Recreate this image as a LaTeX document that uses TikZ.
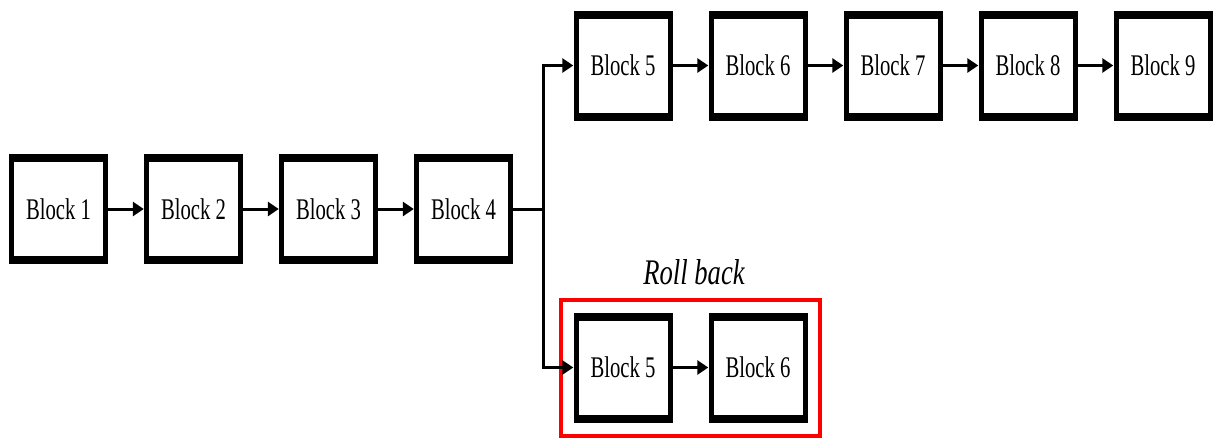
\documentclass[tikz,border=0pt]{standalone}
\usepackage{fontspec}
\setmainfont{Liberation Serif}
\newfontfamily\blkfont[FakeStretch=0.69]{Liberation Serif}
\newfontfamily\rbfont[FakeStretch=0.74]{Liberation Serif}
\usetikzlibrary{arrows.meta}
\tikzset{
  blk/.style={fill=black, minimum width=99pt, minimum height=110pt, inner sep=0pt,
    font=\blkfont\fontsize{30}{36}\selectfont,
    path picture={\fill[white] ([xshift=5pt,yshift=-8pt]path picture bounding box.north west) rectangle ([xshift=-5pt,yshift=8pt]path picture bounding box.south east);}},
  conn/.style={line width=3pt},
  arr/.style={line width=3pt, -{Triangle[length=11pt,width=14pt]}},
}
\begin{document}
\begin{tikzpicture}[x=1pt,y=-1pt]
\useasboundingbox (0,0) rectangle (1213,439);
\node[blk] (b1) at (58.5,209) {Block 1};
\node[blk] (b2) at (193.5,209) {Block 2};
\node[blk] (b3) at (328.5,209) {Block 3};
\node[blk] (b4) at (463.5,209) {Block 4};
\node[blk] (t5) at (623,65.5) {Block 5};
\node[blk] (t6) at (758,65.5) {Block 6};
\node[blk] (t7) at (893,65.5) {Block 7};
\node[blk] (t8) at (1028,65.5) {Block 8};
\node[blk] (t9) at (1163,65.5) {Block 9};
\node[blk] (r5) at (623,367.5) {Block 5};
\node[blk] (r6) at (758,367.5) {Block 6};
\node[draw=red, line width=4pt, minimum width=259pt, minimum height=136pt, inner sep=0pt] (rb) at (690.5,368) {};
\node[font=\rbfont\itshape\fontsize{36}{40}\selectfont, anchor=base] (rbl) at (694,284) {Roll back};
\coordinate (j) at (543,209);
\draw[arr] (b1) -- (b2);
\draw[arr] (b2) -- (b3);
\draw[arr] (b3) -- (b4);
\draw[conn] (b4.east) -- ([xshift=1.5pt]j);
\draw[arr] (j) |- (t5.west);
\draw[arr] (j) |- (r5.west);
\draw[arr] (t5) -- (t6);
\draw[arr] (t6) -- (t7);
\draw[arr] (t7) -- (t8);
\draw[arr] (t8) -- (t9);
\draw[arr] (r5) -- (r6);
\end{tikzpicture}
\end{document}
